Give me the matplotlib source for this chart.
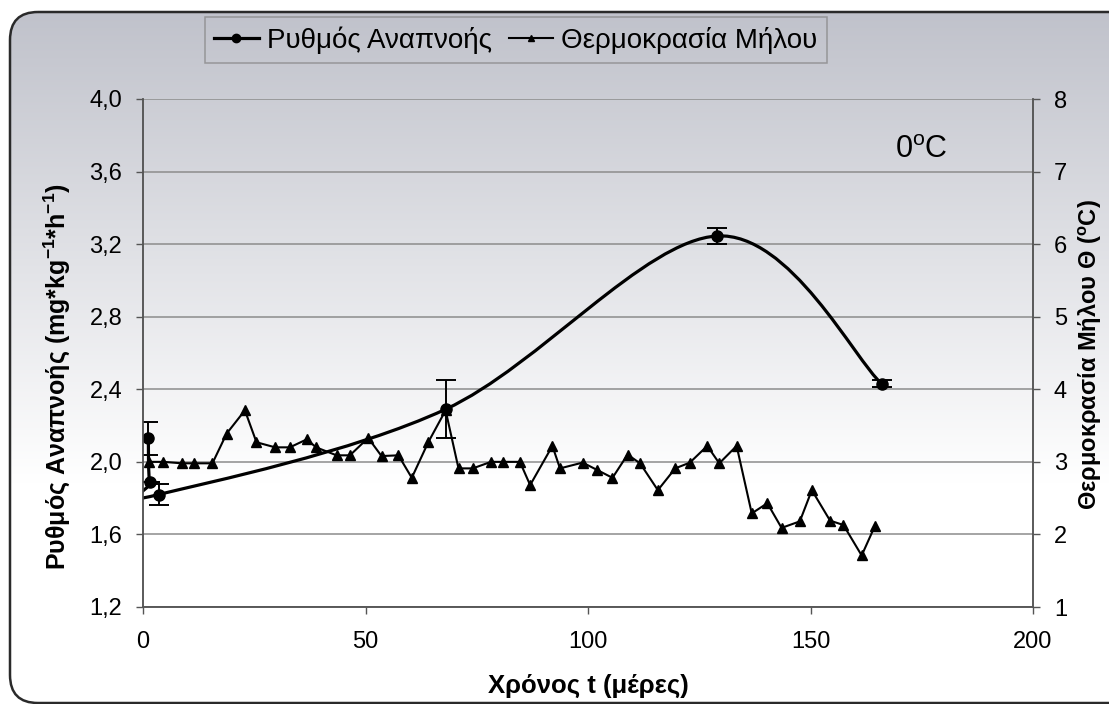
import numpy as np
import matplotlib
matplotlib.use("Agg")
import matplotlib.pyplot as plt
import matplotlib.patches as mpatches
from matplotlib.path import Path
from matplotlib.lines import Line2D
from matplotlib.ticker import FuncFormatter, MultipleLocator

# ── Δεδομένα ────────────────────────────────────────────────────────────────
# Ρυθμός αναπνοής (αριστερός άξονας)
resp_days = [1.2, 1.5, 3.5, 68, 129, 166]
resp_vals = [2.13, 1.89, 1.82, 2.29, 3.245, 2.43]
resp_err = [0.09, 0.0, 0.06, 0.16, 0.045, 0.02]

# Θερμοκρασία μήλου (δεξιός άξονας)
temp_days = [1.3, 4.6, 8.7, 11.5, 15.6, 18.8, 22.9, 25.5, 29.7, 33.0, 36.8,
             38.9, 43.5, 46.5, 50.6, 53.6, 57.4, 60.4, 64.1, 68.0, 70.9,
             74.1, 78.2, 81.0, 84.7, 87.0, 92.0, 93.7, 98.8, 102.0, 105.5,
             108.9, 111.7, 115.7, 119.6, 122.9, 126.8, 129.5, 133.4, 136.8,
             140.3, 143.5, 147.6, 150.3, 154.4, 157.4, 161.5, 164.5]
temp_vals = [3.0, 3.0, 2.98, 2.98, 2.98, 3.39, 3.71, 3.27, 3.20, 3.20, 3.31,
             3.20, 3.09, 3.09, 3.33, 3.08, 3.09, 2.78, 3.27, 3.71, 2.91,
             2.91, 3.0, 3.0, 3.0, 2.68, 3.22, 2.91, 2.99, 2.89, 2.78,
             3.10, 2.98, 2.61, 2.91, 2.99, 3.22, 2.98, 3.22, 2.29,
             2.43, 2.09, 2.18, 2.61, 2.19, 2.13, 1.71, 2.12]

W, H = 1109, 704
plt.rcParams["font.family"] = ["Liberation Sans", "DejaVu Sans"]
plt.rcParams["mathtext.fontset"] = "custom"
plt.rcParams["mathtext.rm"] = "Liberation Sans"
plt.rcParams["mathtext.bf"] = "Liberation Sans:bold"


def smooth_path(xs, ys):
    """Καμπύλη Catmull-Rom ως κυβικά Bezier (όπως η εξομάλυνση του Excel)."""
    pts = np.column_stack([xs, ys]).astype(float)
    n = len(pts)
    verts = [pts[0]]
    codes = [Path.MOVETO]
    for i in range(n - 1):
        p0 = pts[i - 1] if i > 0 else pts[i]
        p1, p2 = pts[i], pts[i + 1]
        p3 = pts[i + 2] if i + 2 < n else pts[i + 1]
        c1 = p1 + (p2 - p0) / 6.0
        c2 = p2 - (p3 - p1) / 6.0
        verts += [c1, c2, p2]
        codes += [Path.CURVE4] * 3
    return Path(verts, codes)


fig = plt.figure(figsize=(W / 100, H / 100), dpi=100)

# ── Φόντο: διαβάθμιση με στρογγυλεμένο πλαίσιο ─────────────────────────────
bg = fig.add_axes([0, 0, 1, 1], zorder=-10)
bg.set_xlim(0, W)
bg.set_ylim(H, 0)
bg.axis("off")
frame = mpatches.FancyBboxPatch((10, 12), W + 30, 691,
                                boxstyle="round,pad=0,rounding_size=28",
                                facecolor="none", edgecolor="#2a2a2a",
                                linewidth=1.8, zorder=3)
bg.add_patch(frame)
rows = np.linspace(0, 1, 400)
t = np.clip((rows * H - 12) / 470.0, 0, 1)
top = np.array([192, 194, 203]) / 255.0
grad = top[None, :] * (1 - t[:, None]) + np.ones(3)[None, :] * t[:, None]
img = bg.imshow(grad[:, None, :], extent=(0, W, H, 0), aspect="auto", zorder=1)
img.set_clip_path(frame)

# ── Άξονες ──────────────────────────────────────────────────────────────────
ax = fig.add_axes([143 / W, 1 - 607 / H, (1033 - 143) / W, (607 - 99) / H])
ax2 = ax.twinx()
ax.set_zorder(ax2.get_zorder() + 1)
ax.patch.set_visible(False)
ax2.patch.set_visible(False)

ax.set_xlim(0, 200)
ax.set_ylim(1.2, 4.0)
ax2.set_ylim(1, 8)
ax.xaxis.set_major_locator(MultipleLocator(50))
ax.yaxis.set_major_locator(MultipleLocator(0.4))
ax2.yaxis.set_major_locator(MultipleLocator(1))
ax.yaxis.set_major_formatter(FuncFormatter(lambda v, p: f"{v:.1f}".replace(".", ",")))

ax2.grid(axis="y", color="#8c8c8c", linewidth=1.1)
ax2.set_axisbelow(True)

for a in (ax, ax2):
    a.spines["top"].set_visible(False)
    for s in ("left", "right", "bottom"):
        a.spines[s].set_color("#555555")
        a.spines[s].set_linewidth(1.1)
    a.tick_params(direction="out", length=5, width=1.0, color="#555555",
                  labelsize=17, pad=12)
ax.tick_params(axis="y", pad=10)
ax2.tick_params(axis="y", pad=10)

# Θερμοκρασία
ax2.plot(temp_days, temp_vals, color="black", linewidth=1.5,
         marker="^", markersize=7, clip_on=False)

# Ρυθμός αναπνοής: εξομαλυμένη καμπύλη, σημεία και σφάλματα
ax.add_patch(mpatches.PathPatch(smooth_path(resp_days, resp_vals),
                                facecolor="none", edgecolor="black",
                                linewidth=2.3))
ax.errorbar(resp_days, resp_vals, yerr=resp_err, fmt="o", color="black",
            markersize=8, ecolor="black", elinewidth=1.4, capsize=7,
            capthick=1.4)

ax.set_xlabel("Χρόνος t (μέρες)", fontsize=18.5, fontweight="bold")
ax.xaxis.set_label_coords(0.5, -(686 - 607) / 508, transform=ax.transAxes)
ax.xaxis.label.set_va("center")
ax.set_ylabel(r"Ρυθμός Αναπνοής (mg*kg$\mathbf{^{-1}}$*h$\mathbf{^{-1}}$)",
              fontsize=18, fontweight="bold")
ax.yaxis.set_label_coords(-(143 - 57) / 890, (607 - 377) / 508)
ax.yaxis.label.set_va("center")
ax2.set_ylabel(r"Θερμοκρασία Μήλου Θ ($\mathbf{^{o}}$C)", fontsize=17,
               fontweight="bold")
ax2.yaxis.set_label_coords((1090 - 143) / 890, (607 - 355) / 508)
ax2.yaxis.label.set_va("center")

ax.text(175, 3.72, r"0$^{\mathrm{o}}$C", fontsize=22, ha="center", va="center")

# ── Υπόμνημα ────────────────────────────────────────────────────────────────
handles = [
    Line2D([], [], color="black", linewidth=2.3, marker="o", markersize=6),
    Line2D([], [], color="black", linewidth=1.5, marker="^", markersize=5),
]
leg = fig.legend(handles, ["Ρυθμός Αναπνοής", "Θερμοκρασία Μήλου"],
                 loc="center", bbox_to_anchor=(516 / W, 1 - 40 / H), ncol=2,
                 frameon=True, fancybox=False, edgecolor="#8a8a8a",
                 facecolor="none", handlelength=1.6,
                 handletextpad=0.3, columnspacing=0.6, borderpad=0.35,
                 prop={"family": ["Liberation Sans"], "size": 20})
leg.get_frame().set_linewidth(1.1)

fig.savefig("out.png", dpi=100)
